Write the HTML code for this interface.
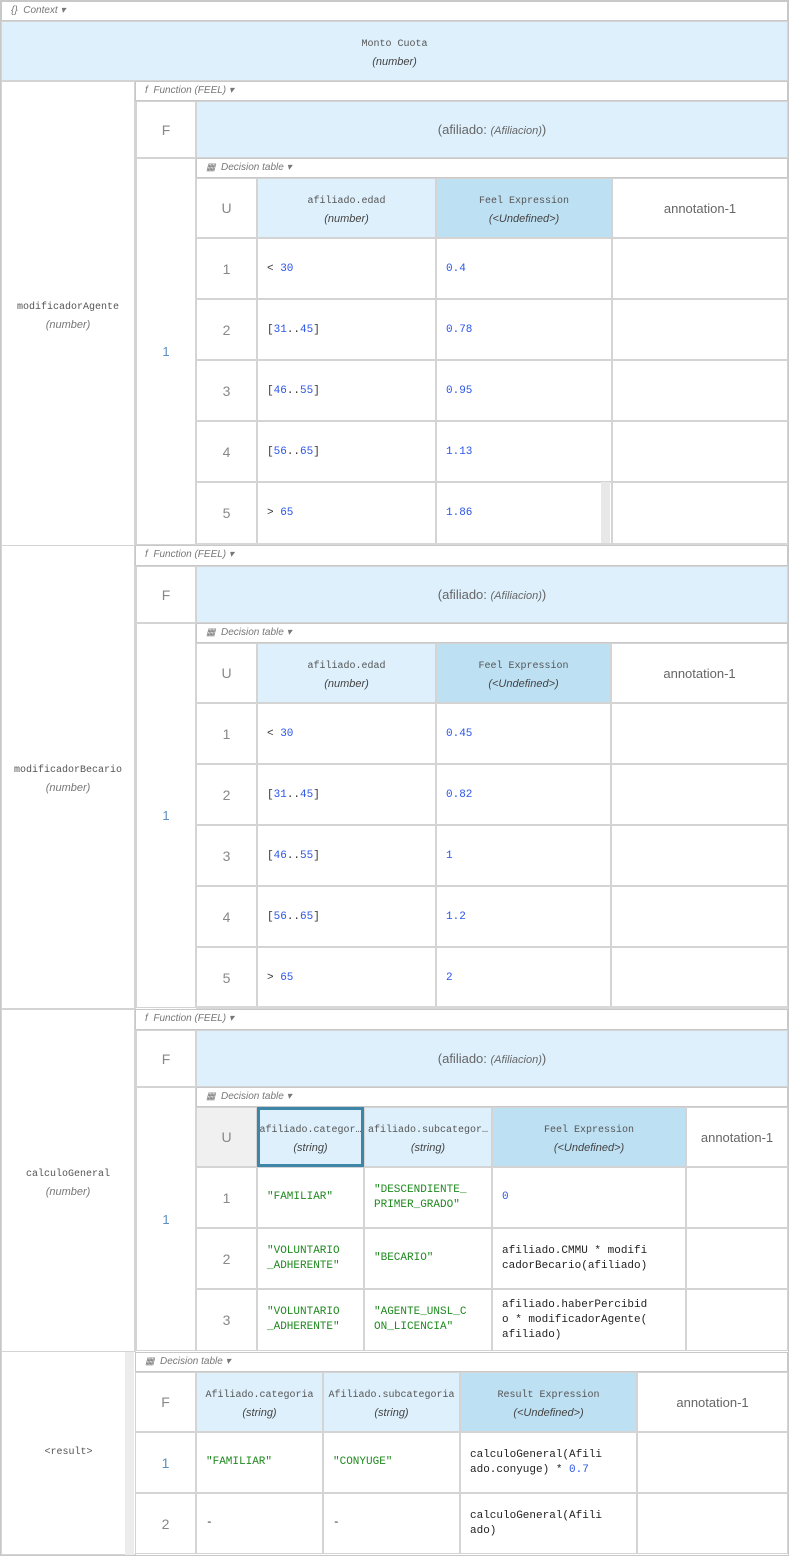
<!DOCTYPE html>
<html><head><meta charset="utf-8"><style>
*{margin:0;padding:0;box-sizing:border-box}
body{width:789px;height:1556px;background:#fff;position:relative;overflow:hidden;font-family:"Liberation Sans",sans-serif;color:#666}
.c{position:absolute;border:1px solid #d4d4d4;display:flex;align-items:center;justify-content:center;text-align:center;flex-direction:column}
.l{align-items:flex-start;padding-left:9px;text-align:left}
.b{background:#def0fc}
.d{background:#bee0f3}
.g{background:#f0f0f0}
.m{font-family:"Liberation Mono",monospace;font-size:11px;color:#333}
.hm{font-family:"Liberation Mono",monospace;font-size:10px;color:#555;line-height:22px}
.i{font-style:italic;font-size:11px;color:#444}
.n{font-size:14px;color:#888}
.an{font-size:13px;color:#666}
.t{position:absolute;border:1px solid #c8c8c8;font-size:10px;font-style:italic;color:#777;padding-left:9px;line-height:18px;background:#fff}
.num{color:#2b55e8}
.str{color:#1f8a1f}
.ex{font-family:"Liberation Mono",monospace;font-size:11px;color:#222;line-height:15px}
</style></head><body>
<div style="position:absolute;left:0;top:0;width:789px;height:1556px;border:1px solid #c8c8c8"></div>
<div class="t" style="left:1px;top:1px;width:787px;height:20px">{}&nbsp;&nbsp;Context ▾</div>
<div class="c b" style="left:1px;top:21px;width:787px;height:60px"><div class="hm">Monto Cuota</div><div class="i">(number)</div></div>

<!-- Section 1 -->
<div class="c" style="left:1px;top:81px;width:135px;height:465px;border-width:1px 2px 1px 1px"><div class="hm" style="color:#555">modificadorAgente</div><div class="i" style="color:#777">(number)</div></div>
<div class="t" style="left:135px;top:81px;width:653px;height:20px">f&nbsp;&nbsp;Function (FEEL) ▾</div>
<div class="c n" style="left:136px;top:101px;width:60px;height:57px">F</div>
<div class="c b" style="left:196px;top:101px;width:592px;height:57px"><div style="font-size:13px;color:#666">(afiliado: <i style="font-size:11px">(Afiliacion)</i>)</div></div>
<div class="c n" style="left:136px;top:158px;width:60px;height:387px;font-size:13px;color:#5a8fc0">1</div>
<div class="t" style="left:196px;top:158px;width:592px;height:20px">▦&nbsp;&nbsp;Decision table ▾</div>
<div class="c n" style="left:196px;top:178px;width:61px;height:60px">U</div>
<div class="c b" style="left:257px;top:178px;width:179px;height:60px"><div class="hm">afiliado.edad</div><div class="i">(number)</div></div>
<div class="c d" style="left:436px;top:178px;width:176px;height:60px"><div class="hm">Feel Expression</div><div class="i">(&lt;Undefined&gt;)</div></div>
<div class="c an" style="left:612px;top:178px;width:176px;height:60px">annotation-1</div>

<div class="c n" style="left:196px;top:238px;width:61px;height:61px">1</div><div class="c l m" style="left:257px;top:238px;width:179px;height:61px"><span>&lt; <span class="num">30</span></span></div><div class="c l m num" style="left:436px;top:238px;width:176px;height:61px"><span class="num">0.4</span></div><div class="c" style="left:612px;top:238px;width:176px;height:61px"></div>
<div class="c n" style="left:196px;top:299px;width:61px;height:61px">2</div><div class="c l m" style="left:257px;top:299px;width:179px;height:61px"><span>[<span class="num">31</span>..<span class="num">45</span>]</span></div><div class="c l m" style="left:436px;top:299px;width:176px;height:61px"><span class="num">0.78</span></div><div class="c" style="left:612px;top:299px;width:176px;height:61px"></div>
<div class="c n" style="left:196px;top:360px;width:61px;height:61px">3</div><div class="c l m" style="left:257px;top:360px;width:179px;height:61px"><span>[<span class="num">46</span>..<span class="num">55</span>]</span></div><div class="c l m" style="left:436px;top:360px;width:176px;height:61px"><span class="num">0.95</span></div><div class="c" style="left:612px;top:360px;width:176px;height:61px"></div>
<div class="c n" style="left:196px;top:421px;width:61px;height:61px">4</div><div class="c l m" style="left:257px;top:421px;width:179px;height:61px"><span>[<span class="num">56</span>..<span class="num">65</span>]</span></div><div class="c l m" style="left:436px;top:421px;width:176px;height:61px"><span class="num">1.13</span></div><div class="c" style="left:612px;top:421px;width:176px;height:61px"></div>
<div class="c n" style="left:196px;top:482px;width:61px;height:62px">5</div><div class="c l m" style="left:257px;top:482px;width:179px;height:62px"><span>&gt; <span class="num">65</span></span></div><div class="c l m" style="left:436px;top:482px;width:176px;height:62px"><span class="num">1.86</span></div><div class="c" style="left:612px;top:482px;width:176px;height:62px"></div>
<div style="position:absolute;left:601px;top:482px;width:9px;height:62px;background:#e8e8e8"></div>
<div style="position:absolute;left:196px;top:543px;width:592px;height:3px;background:#d8d8d8"></div>

<!-- Section 2 -->
<div class="c" style="left:1px;top:545px;width:135px;height:464px;border-width:1px 2px 1px 1px"><div class="hm" style="color:#555">modificadorBecario</div><div class="i" style="color:#777">(number)</div></div>
<div class="t" style="left:135px;top:545px;width:653px;height:21px">f&nbsp;&nbsp;Function (FEEL) ▾</div>
<div class="c n" style="left:136px;top:566px;width:60px;height:57px">F</div>
<div class="c b" style="left:196px;top:566px;width:592px;height:57px"><div style="font-size:13px;color:#666">(afiliado: <i style="font-size:11px">(Afiliacion)</i>)</div></div>
<div class="c n" style="left:136px;top:623px;width:60px;height:385px;font-size:13px;color:#5a8fc0">1</div>
<div class="t" style="left:196px;top:623px;width:592px;height:20px">▦&nbsp;&nbsp;Decision table ▾</div>
<div class="c n" style="left:196px;top:643px;width:61px;height:60px">U</div>
<div class="c b" style="left:257px;top:643px;width:179px;height:60px"><div class="hm">afiliado.edad</div><div class="i">(number)</div></div>
<div class="c d" style="left:436px;top:643px;width:175px;height:60px"><div class="hm">Feel Expression</div><div class="i">(&lt;Undefined&gt;)</div></div>
<div class="c an" style="left:611px;top:643px;width:177px;height:60px">annotation-1</div>

<div class="c n" style="left:196px;top:703px;width:61px;height:61px">1</div><div class="c l m" style="left:257px;top:703px;width:179px;height:61px"><span>&lt; <span class="num">30</span></span></div><div class="c l m" style="left:436px;top:703px;width:175px;height:61px"><span class="num">0.45</span></div><div class="c" style="left:611px;top:703px;width:177px;height:61px"></div>
<div class="c n" style="left:196px;top:764px;width:61px;height:61px">2</div><div class="c l m" style="left:257px;top:764px;width:179px;height:61px"><span>[<span class="num">31</span>..<span class="num">45</span>]</span></div><div class="c l m" style="left:436px;top:764px;width:175px;height:61px"><span class="num">0.82</span></div><div class="c" style="left:611px;top:764px;width:177px;height:61px"></div>
<div class="c n" style="left:196px;top:825px;width:61px;height:61px">3</div><div class="c l m" style="left:257px;top:825px;width:179px;height:61px"><span>[<span class="num">46</span>..<span class="num">55</span>]</span></div><div class="c l m" style="left:436px;top:825px;width:175px;height:61px"><span class="num">1</span></div><div class="c" style="left:611px;top:825px;width:177px;height:61px"></div>
<div class="c n" style="left:196px;top:886px;width:61px;height:61px">4</div><div class="c l m" style="left:257px;top:886px;width:179px;height:61px"><span>[<span class="num">56</span>..<span class="num">65</span>]</span></div><div class="c l m" style="left:436px;top:886px;width:175px;height:61px"><span class="num">1.2</span></div><div class="c" style="left:611px;top:886px;width:177px;height:61px"></div>
<div class="c n" style="left:196px;top:947px;width:61px;height:61px">5</div><div class="c l m" style="left:257px;top:947px;width:179px;height:61px"><span>&gt; <span class="num">65</span></span></div><div class="c l m" style="left:436px;top:947px;width:175px;height:61px"><span class="num">2</span></div><div class="c" style="left:611px;top:947px;width:177px;height:61px"></div>
<div style="position:absolute;left:196px;top:1006px;width:592px;height:3px;background:#d8d8d8"></div>

<!-- Section 3 -->
<div class="c" style="left:1px;top:1009px;width:135px;height:343px;border-width:1px 2px 1px 1px"><div class="hm" style="color:#555">calculoGeneral</div><div class="i" style="color:#777">(number)</div></div>
<div class="t" style="left:135px;top:1009px;width:653px;height:21px">f&nbsp;&nbsp;Function (FEEL) ▾</div>
<div class="c n" style="left:136px;top:1030px;width:60px;height:57px">F</div>
<div class="c b" style="left:196px;top:1030px;width:592px;height:57px"><div style="font-size:13px;color:#666">(afiliado: <i style="font-size:11px">(Afiliacion)</i>)</div></div>
<div class="c n" style="left:136px;top:1087px;width:60px;height:264px;font-size:13px;color:#5a8fc0">1</div>
<div class="t" style="left:196px;top:1087px;width:592px;height:20px">▦&nbsp;&nbsp;Decision table ▾</div>
<div class="c n g" style="left:196px;top:1107px;width:61px;height:60px">U</div>
<div class="c b" style="left:257px;top:1107px;width:107px;height:60px;border:3px solid #3d86a8;white-space:nowrap;overflow:hidden"><div class="hm" style="font-size:10px">afiliado.categor…</div><div class="i">(string)</div></div>
<div class="c b" style="left:364px;top:1107px;width:128px;height:60px;white-space:nowrap;overflow:hidden"><div class="hm" style="font-size:10px">afiliado.subcategor…</div><div class="i">(string)</div></div>
<div class="c d" style="left:492px;top:1107px;width:194px;height:60px"><div class="hm">Feel Expression</div><div class="i">(&lt;Undefined&gt;)</div></div>
<div class="c an" style="left:686px;top:1107px;width:102px;height:60px">annotation-1</div>

<div class="c n" style="left:196px;top:1167px;width:61px;height:61px">1</div>
<div class="c l ex" style="left:257px;top:1167px;width:107px;height:61px"><span class="str">"FAMILIAR"</span></div>
<div class="c l ex" style="left:364px;top:1167px;width:128px;height:61px"><span class="str">"DESCENDIENTE_<br>PRIMER_GRADO"</span></div>
<div class="c l ex" style="left:492px;top:1167px;width:194px;height:61px"><span class="num">0</span></div>
<div class="c" style="left:686px;top:1167px;width:102px;height:61px"></div>

<div class="c n" style="left:196px;top:1228px;width:61px;height:61px">2</div>
<div class="c l ex" style="left:257px;top:1228px;width:107px;height:61px"><span class="str">"VOLUNTARIO<br>_ADHERENTE"</span></div>
<div class="c l ex" style="left:364px;top:1228px;width:128px;height:61px"><span class="str">"BECARIO"</span></div>
<div class="c l ex" style="left:492px;top:1228px;width:194px;height:61px"><span>afiliado.CMMU * modifi<br>cadorBecario(afiliado)</span></div>
<div class="c" style="left:686px;top:1228px;width:102px;height:61px"></div>

<div class="c n" style="left:196px;top:1289px;width:61px;height:62px">3</div>
<div class="c l ex" style="left:257px;top:1289px;width:107px;height:62px"><span class="str">"VOLUNTARIO<br>_ADHERENTE"</span></div>
<div class="c l ex" style="left:364px;top:1289px;width:128px;height:62px"><span class="str">"AGENTE_UNSL_C<br>ON_LICENCIA"</span></div>
<div class="c l ex" style="left:492px;top:1289px;width:194px;height:62px"><span>afiliado.haberPercibid<br>o * modificadorAgente(<br>afiliado)</span></div>
<div class="c" style="left:686px;top:1289px;width:102px;height:62px"></div>

<!-- Section 4 -->
<div class="c" style="left:1px;top:1351px;width:135px;height:204px"><div class="hm" style="color:#555;font-size:10px">&lt;result&gt;</div></div>
<div style="position:absolute;left:125px;top:1352px;width:9px;height:203px;background:#ececec"></div>
<div class="t" style="left:135px;top:1352px;width:653px;height:20px">▦&nbsp;&nbsp;Decision table ▾</div>
<div class="c n" style="left:135px;top:1372px;width:61px;height:60px">F</div>
<div class="c b" style="left:196px;top:1372px;width:127px;height:60px"><div class="hm">Afiliado.categoria</div><div class="i">(string)</div></div>
<div class="c b" style="left:323px;top:1372px;width:137px;height:60px"><div class="hm">Afiliado.subcategoria</div><div class="i">(string)</div></div>
<div class="c d" style="left:460px;top:1372px;width:177px;height:60px"><div class="hm">Result Expression</div><div class="i">(&lt;Undefined&gt;)</div></div>
<div class="c an" style="left:637px;top:1372px;width:151px;height:60px">annotation-1</div>

<div class="c n" style="left:135px;top:1432px;width:61px;height:61px;color:#5a8fc0">1</div>
<div class="c l ex" style="left:196px;top:1432px;width:127px;height:61px"><span class="str">"FAMILIAR"</span></div>
<div class="c l ex" style="left:323px;top:1432px;width:137px;height:61px"><span class="str">"CONYUGE"</span></div>
<div class="c l ex" style="left:460px;top:1432px;width:177px;height:61px"><span>calculoGeneral(Afili<br>ado.conyuge) * <span class="num">0.7</span></span></div>
<div class="c" style="left:637px;top:1432px;width:151px;height:61px"></div>

<div class="c n" style="left:135px;top:1493px;width:61px;height:61px">2</div>
<div class="c l ex" style="left:196px;top:1493px;width:127px;height:61px"><span>-</span></div>
<div class="c l ex" style="left:323px;top:1493px;width:137px;height:61px"><span>-</span></div>
<div class="c l ex" style="left:460px;top:1493px;width:177px;height:61px"><span>calculoGeneral(Afili<br>ado)</span></div>
<div class="c" style="left:637px;top:1493px;width:151px;height:61px"></div>
</body></html>
